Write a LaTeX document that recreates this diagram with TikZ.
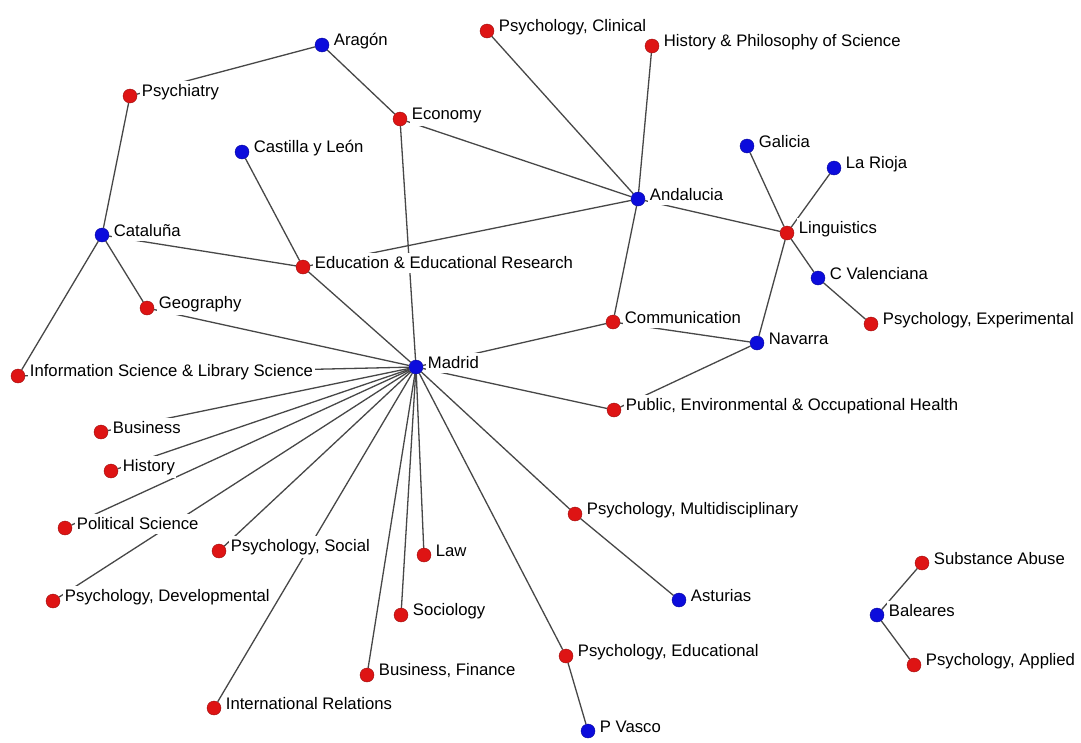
\documentclass[tikz,border=0pt]{standalone}
\usepackage{fontspec}
\setmainfont{Liberation Sans}
\usetikzlibrary{backgrounds}

\definecolor{fieldred}{RGB}{222,20,20}
\definecolor{regionblue}{RGB}{12,12,220}
\tikzset{
	field/.style={circle, fill=fieldred, draw=fieldred!70!black, minimum size=14pt, inner sep=0pt},
	region/.style={circle, fill=regionblue, draw=regionblue!70!black, minimum size=14pt, inner sep=0pt},
	lbl/.style={fill=white, inner xsep=1.5pt, inner ysep=3.5pt, yshift=4pt, font=\fontsize{16.7pt}{18pt}\selectfont},
	every label/.style={lbl},
	label distance=3pt,
	link/.style={draw=black!72, line width=1.3pt}
}

\begin{document}
\begin{tikzpicture}[x=1pt, y=-1pt]
		\useasboundingbox (0,0) rectangle (1081,742);

		\node [field, label=right:{Psychology, Clinical}] (clinical) at (487,31) {};
		\node [field, label=right:{History \& Philosophy of Science}] (hps) at (652,46) {};
		\node [region, label=right:Aragón] (arag) at (322,45) {};
		\node [field, label=right:Psychiatry] (psychiatry) at (130,96) {};
		\node [field, label=right:Economy] (econ) at (400,119) {};
		\node [region, label=right:Castilla y León] (cyl) at (242,152) {};
		\node [region, label=right:Galicia] (galicia) at (747,146) {};
		\node [region, label=right:La Rioja] (rioja) at (834,168) {};
		\node [region, label=right:Andalucia] (andal) at (638,199) {};
		\node [field, label=right:Linguistics] (ling) at (787,233) {};
		\node [region, label=right:Cataluña] (catal) at (102,235) {};
		\node [field, label=right:{Education \& Educational Research}] (edu) at (303,267) {};
		\node [region, label=right:C Valenciana] (valenc) at (818,278) {};
		\node [field, label=right:Geography] (geo) at (147,308) {};
		\node [field, label=right:Communication] (comm) at (613,322) {};
		\node [field, label=right:{Psychology, Experimental}] (expt) at (871,324) {};
		\node [region, label=right:Navarra] (navarra) at (757,343) {};
		\node [region, label=right:Madrid] (madrid) at (416,367) {};
		\node [field, label=right:{Information Science \& Library Science}] (infosci) at (18,376) {};
		\node [field, label=right:{Public, Environmental \& Occupational Health}] (health) at (614,410) {};
		\node [field, label=right:Business] (business) at (101,432) {};
		\node [field, label=right:History] (history) at (111,471) {};
		\node [field, label=right:Political Science] (polsci) at (65,528) {};
		\node [field, label=right:{Psychology, Multidisciplinary}] (multi) at (575,514) {};
		\node [field, label=right:{Psychology, Social}] (social) at (219,551) {};
		\node [field, label=right:Law] (law) at (424,555) {};
		\node [field, label=right:Substance Abuse] (subst) at (922,563) {};
		\node [field, label=right:{Psychology, Developmental}] (devel) at (53,601) {};
		\node [region, label=right:Asturias] (astur) at (679,600) {};
		\node [region, label=right:Baleares] (balear) at (877,615) {};
		\node [field, label=right:Sociology] (socio) at (401,615) {};
		\node [field, label=right:{Psychology, Educational}] (educ) at (566,656) {};
		\node [field, label=right:{Business, Finance}] (finance) at (367,675) {};
		\node [field, label=right:{Psychology, Applied}] (applied) at (914,665) {};
		\node [field, label=right:International Relations] (intrel) at (214,708) {};
		\node [region, label=right:P Vasco] (vasco) at (588,731) {};

		\begin{scope}[on background layer]
			\fill [white] (0,0) rectangle (1081,742);
			\draw [link] (arag) -- (psychiatry);
			\draw [link] (arag) -- (econ);
			\draw [link] (psychiatry) -- (catal);
			\draw [link] (econ) -- (andal);
			\draw [link] (econ) -- (madrid);
			\draw [link] (cyl) -- (edu);
			\draw [link] (catal) -- (edu);
			\draw [link] (catal) -- (geo);
			\draw [link] (catal) -- (infosci);
			\draw [link] (edu) -- (andal);
			\draw [link] (edu) -- (madrid);
			\draw [link] (geo) -- (madrid);
			\draw [link] (infosci) -- (madrid);
			\draw [link] (clinical) -- (andal);
			\draw [link] (hps) -- (andal);
			\draw [link] (andal) -- (ling);
			\draw [link] (andal) -- (comm);
			\draw [link] (galicia) -- (ling);
			\draw [link] (rioja) -- (ling);
			\draw [link] (ling) -- (valenc);
			\draw [link] (ling) -- (navarra);
			\draw [link] (valenc) -- (expt);
			\draw [link] (comm) -- (navarra);
			\draw [link] (comm) -- (madrid);
			\draw [link] (navarra) -- (health);
			\draw [link] (madrid) -- (health);
			\draw [link] (madrid) -- (business);
			\draw [link] (madrid) -- (history);
			\draw [link] (madrid) -- (polsci);
			\draw [link] (madrid) -- (devel);
			\draw [link] (madrid) -- (social);
			\draw [link] (madrid) -- (intrel);
			\draw [link] (madrid) -- (finance);
			\draw [link] (madrid) -- (socio);
			\draw [link] (madrid) -- (law);
			\draw [link] (madrid) -- (multi);
			\draw [link] (madrid) -- (educ);
			\draw [link] (multi) -- (astur);
			\draw [link] (educ) -- (vasco);
			\draw [link] (balear) -- (subst);
			\draw [link] (balear) -- (applied);
		\end{scope}
	\end{tikzpicture}
\end{document}
